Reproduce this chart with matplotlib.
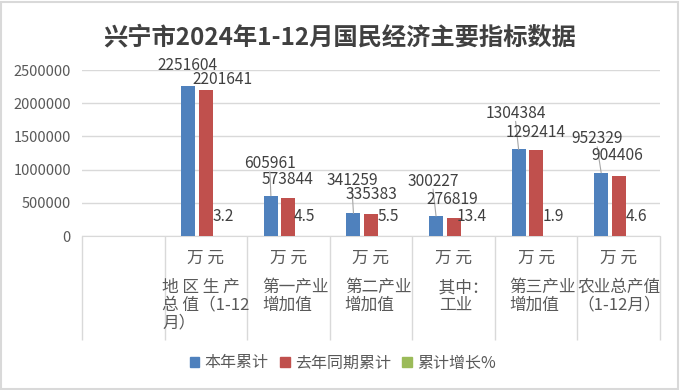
import matplotlib
matplotlib.use("Agg")
import matplotlib.pyplot as plt
from matplotlib.patches import Rectangle

plt.rcParams['font.family'] = ['Noto Sans CJK SC', 'DejaVu Sans']

title = "兴宁市2024年1-12月国民经济主要指标数据"
units = ["", "万 元", "万 元", "万 元", "万 元", "万 元", "万 元"]
categories = ["", "地 区 生 产\n总 值（1-12\n月）", "第一产业\n增加值", "第二产业\n增加值",
              "\u3000其中：\n工业", "第三产业\n增加值", "农业总产值\n（1-12月）"]
this_year = [None, 2251604, 605961, 341259, 300227, 1304384, 952329]
last_year = [None, 2201641, 573844, 335383, 276819, 1292414, 904406]
growth = [None, 3.2, 4.5, 5.5, 13.4, 1.9, 4.6]
series_names = ["本年累计", "去年同期累计", "累计增长%"]
yticks = [0, 500000, 1000000, 1500000, 2000000, 2500000]

# style: label offsets in pixels (dx, dy) relative to bar top
blue_off = [None, (-1, 21), (-1, 32), (-1.5, 33), (-3, 35), (-3, 36), (-4, 34)]
red_off = [None, (17, 10), (-1, 18), (0, 19), (-1, 18), (0, 18), (-1, 20)]
green_off = [None, (0, 19), (-1, 19), (0, 19), (1, 19), (0, 19), (0, 19)]
cat_dx = [0, 0, 7, 7, 2, 6, 0]
cat_ma = ["left", "left", "left", "left", "center", "left", "center"]

colors = ["#4f81bd", "#c0504d", "#9bbb59"]
txt = "#595959"

fig = plt.figure(figsize=(6.8, 3.9), dpi=100)
W, H = 680, 390
ax = fig.add_axes([82 / W, (H - 236) / H, (660 - 82) / W, (236 - 70) / H])

n = len(categories)
off = 17.5 / 82.4
bw = 14 / 82.4
PT = 0.72

for i in range(n):
    if this_year[i] is None:
        continue
    for k, (vals, offs) in enumerate([(this_year, blue_off), (last_year, red_off), (growth, green_off)]):
        x = i + (k - 1) * off
        ax.bar(x, vals[i], width=bw, color=colors[k], zorder=3)
        dx, dy = offs[i]
        lbl = f"{vals[i]}"
        ax.annotate(lbl, xy=(x, vals[i]), xytext=(dx * PT, dy * PT), textcoords="offset points",
                    ha="center", va="center", fontsize=11.2, color="#404040", zorder=5)
    if i >= 2:
        x = i - off
        dx, dy = blue_off[i]
        ax.annotate("", xy=(x, this_year[i]), xytext=(dx * PT, (dy - 8) * PT),
                    textcoords="offset points",
                    arrowprops=dict(arrowstyle="-", color="#a6a6a6", lw=0.8, shrinkA=0, shrinkB=0),
                    zorder=4)

ax.set_xlim(-0.5, n - 0.5)
ax.set_ylim(0, 2500000)
ax.set_yticks(yticks)
ax.set_yticklabels([str(v) for v in yticks], fontsize=10.5, color=txt)
ax.yaxis.grid(True, color="#d9d9d9", lw=1, zorder=0)
ax.set_axisbelow(True)
for s in ["left", "right", "top"]:
    ax.spines[s].set_visible(False)
ax.spines["bottom"].set_color("#d9d9d9")
ax.tick_params(axis="y", length=0, pad=8)

ax.set_xticks([i - 0.5 for i in range(n + 1)])
ax.set_xticklabels([])
ax.tick_params(axis="x", direction="out", length=104 * PT, color="#d9d9d9", width=1)

for i in range(n):
    ax.annotate(units[i], xy=(i, 0), xytext=(0, -22 * PT), textcoords="offset points",
                ha="center", va="center", fontsize=12, color=txt)
    ax.annotate(categories[i], xy=(i, 0), xytext=(cat_dx[i] * PT, -43 * PT),
                textcoords="offset points", ha="center", va="top", fontsize=12, color=txt,
                multialignment=cat_ma[i], linespacing=1.05)

fig.text(0.5, (H - 37) / H, title, ha="center", va="center", fontsize=17.5,
         fontweight="bold", color="#404040")

handles = [Rectangle((0, 0), 1, 1, color=c) for c in colors]
fig.legend(handles, series_names, loc="center", bbox_to_anchor=(343 / W, (H - 363) / H),
           ncol=3, frameon=False, fontsize=11.5, labelcolor=txt, handlelength=0.6,
           handleheight=0.6, handletextpad=0.35, columnspacing=0.7)

fig.add_artist(Rectangle((1 / W, 1 / H), 677 / W, 387 / H, transform=fig.transFigure,
                         fill=False, edgecolor="#d9d9d9", lw=1.5))

fig.savefig("out.png", dpi=100)
